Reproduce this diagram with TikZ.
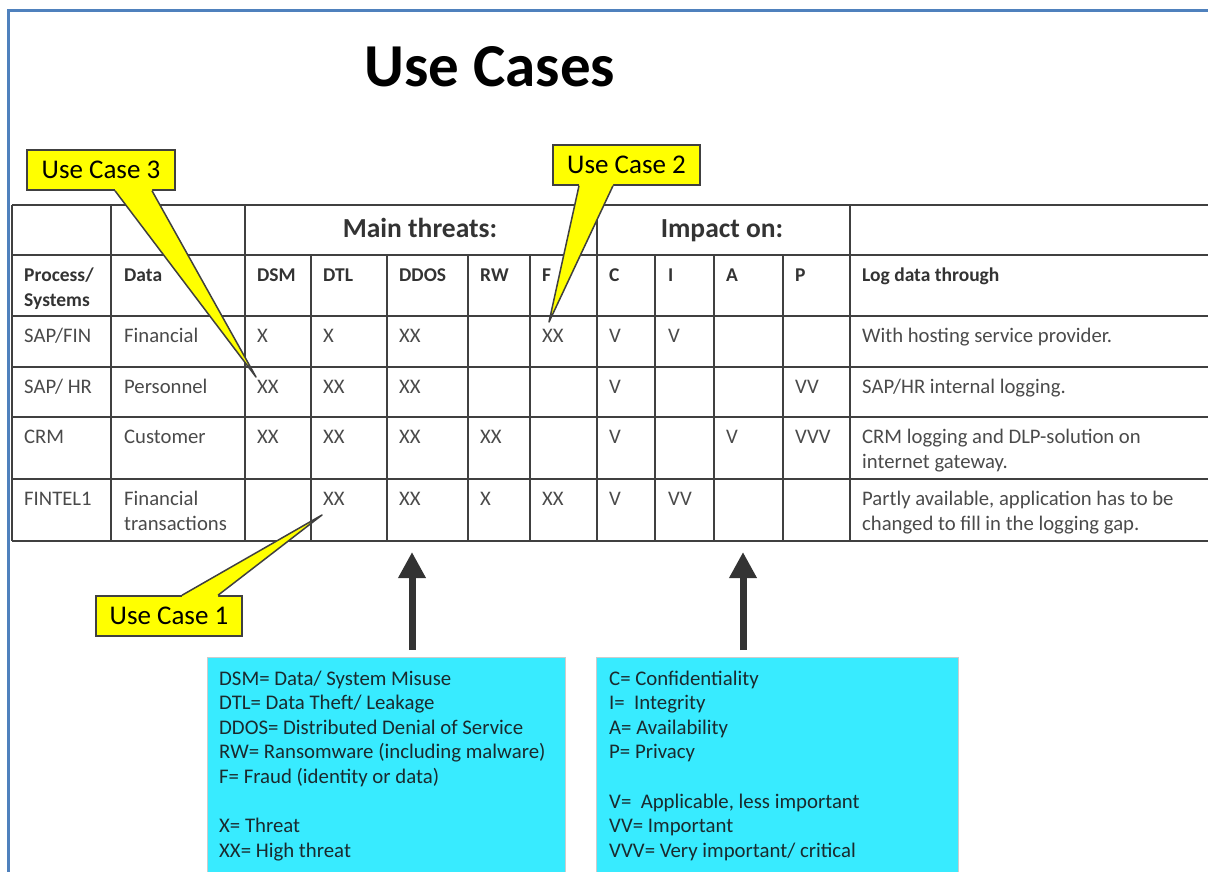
\documentclass[tikz,border=0pt]{standalone}
\usepackage{fontspec}
\setmainfont{Carlito}
\usetikzlibrary{arrows.meta,calc}

\definecolor{frameblue}{HTML}{4F81BD}
\definecolor{gridgray}{HTML}{404040}
\definecolor{txtgray}{HTML}{4A4A4A}
\definecolor{hdrgray}{HTML}{333333}
\definecolor{calloutyellow}{HTML}{FFFF00}
\definecolor{legendcyan}{HTML}{38EBFF}
\definecolor{legendtext}{HTML}{1A2A2E}
\definecolor{arrowgray}{HTML}{333333}

\newcommand\cellfont{\fontsize{20.7}{25}\selectfont\color{txtgray}}
\newcommand\headfont{\fontsize{19.5}{25}\selectfont\bfseries\color{hdrgray}}
% one table cell: name, x, row top, text
\newcommand\tcell[4]{\node[cell] (#1) at (#2,#3+8.5) {\strut #4};}
\newcommand\hcell[4]{\node[cell,font=\headfont] (#1) at (#2,#3+8.5) {\strut #4};}

\begin{document}
\begin{tikzpicture}[x=1pt,y=-1pt,
  frame/.style={draw=frameblue,line width=3pt},
  grid/.style={draw=gridgray,line width=1.8pt},
  cell/.style={anchor=north west,inner sep=0pt,align=left,font=\cellfont},
  group/.style={anchor=base,inner sep=0pt,font=\fontsize{27.5}{30}\selectfont\bfseries\color{hdrgray}},
  callout/.style={draw=gridgray,line width=1.5pt,fill=calloutyellow,minimum height=40pt,
    inner sep=0pt,font=\fontsize{27}{30}\selectfont},
  wedge/.style={draw=gridgray,line width=1.5pt,line join=round},
  legendbox/.style={fill=legendcyan,draw=gray!40,line width=0.8pt,anchor=north west,
    minimum height=240pt,inner sep=0pt},
  legendtext/.style={anchor=north west,inner sep=0pt,align=left,
    font=\fontsize{20.8}{24.6}\selectfont\color{legendtext}},
  bigarrow/.style={draw=arrowgray,line width=7pt,-{Triangle[width=26pt,length=26pt]}}
]
\useasboundingbox (0,0) rectangle (1208,872);
\clip (0,0) rectangle (1208,872);

% page frame
\draw[frame] (8,890) -- (8,11) -- (1220,11);

% title
\node[inner sep=0pt,anchor=base,font=\fontsize{61}{64}\selectfont\bfseries] (title) at (490,87) {Use Cases};

% ---------------- table grid ----------------
\foreach \y in {205,255,316,367,417,479,541}
  \draw[grid] (12,\y) -- (1220,\y);
\foreach \x in {12,111,245,597,850}
  \draw[grid] (\x,205) -- (\x,541);
\foreach \x in {311,387,468,530,655,714,783}
  \draw[grid] (\x,255) -- (\x,541);

% group headings
\node[group] (threats) at (420,237) {Main threats:};
\node[group] (impact) at (722,237) {Impact on:};

% column headings
\hcell{hproc}{24}{255}{Process/\\Systems}
\hcell{hdata}{124}{255}{Data}
\hcell{hdsm}{257}{255}{DSM}
\hcell{hdtl}{323}{255}{DTL}
\hcell{hddos}{399}{255}{DDOS}
\hcell{hrw}{480}{255}{RW}
\hcell{hf}{542}{255}{F}
\hcell{hc}{609}{255}{C}
\hcell{hi}{668}{255}{I}
\hcell{ha}{726}{255}{A}
\hcell{hp}{795}{255}{P}
\hcell{hlog}{862}{255}{Log data through}

% row 1
\tcell{aproc}{24}{316}{SAP/FIN}
\tcell{adata}{124}{316}{Financial}
\tcell{adsm}{257}{316}{X}
\tcell{adtl}{323}{316}{X}
\tcell{addos}{399}{316}{XX}
\tcell{af}{542}{316}{XX}
\tcell{ac}{609}{316}{V}
\tcell{ai}{668}{316}{V}
\tcell{alog}{862}{316}{With hosting service provider.}

% row 2
\tcell{bproc}{24}{367}{SAP/ HR}
\tcell{bdata}{124}{367}{Personnel}
\tcell{bdsm}{257}{367}{XX}
\tcell{bdtl}{323}{367}{XX}
\tcell{bddos}{399}{367}{XX}
\tcell{bc}{609}{367}{V}
\tcell{bp}{795}{367}{VV}
\tcell{blog}{862}{367}{SAP/HR internal logging.}

% row 3
\tcell{cproc}{24}{417}{CRM}
\tcell{cdata}{124}{417}{Customer}
\tcell{cdsm}{257}{417}{XX}
\tcell{cdtl}{323}{417}{XX}
\tcell{cddos}{399}{417}{XX}
\tcell{crw}{480}{417}{XX}
\tcell{cc}{609}{417}{V}
\tcell{ca}{726}{417}{V}
\tcell{cp}{795}{417}{VVV}
\tcell{clog}{862}{417}{CRM logging and DLP-solution on\\internet gateway.}

% row 4
\tcell{dproc}{24}{479}{FINTEL1}
\tcell{ddata}{124}{479}{Financial\\transactions}
\tcell{ddtl}{323}{479}{XX}
\tcell{dddos}{399}{479}{XX}
\tcell{drw}{480}{479}{X}
\tcell{df}{542}{479}{XX}
\tcell{dc}{609}{479}{V}
\tcell{di}{668}{479}{VV}
\tcell{dlog}{862}{479}{Partly available, application has to be\\changed to fill in the logging gap.}

% ---------------- callouts ----------------
\coordinate (tip3) at (256,377);
\coordinate (tip2) at (549,322);
\coordinate (tip1) at (322,515);

\node[callout,minimum width=148pt] (uc3) at (101,170) {Use Case 3};
\fill[calloutyellow] ([xshift=14pt,yshift=2pt]uc3.south) -- ([xshift=14pt]uc3.south) -- (tip3)
  -- ([xshift=51pt]uc3.south) -- ([xshift=51pt,yshift=2pt]uc3.south) -- cycle;
\draw[wedge] ([xshift=14pt]uc3.south) -- (tip3) -- ([xshift=51pt]uc3.south);

\node[callout,minimum width=147pt] (uc2) at (626.5,165) {Use Case 2};
\fill[calloutyellow] ([xshift=-47.5pt,yshift=2pt]uc2.south) -- ([xshift=-47.5pt]uc2.south) -- (tip2)
  -- ([xshift=-13.5pt]uc2.south) -- ([xshift=-13.5pt,yshift=2pt]uc2.south) -- cycle;
\draw[wedge] ([xshift=-47.5pt]uc2.south) -- (tip2) -- ([xshift=-13.5pt]uc2.south);

\node[callout,minimum width=146pt] (uc1) at (169,616) {Use Case 1};
\fill[calloutyellow] ([xshift=13pt,yshift=-2pt]uc1.north) -- ([xshift=13pt]uc1.north) -- (tip1)
  -- ([xshift=49pt]uc1.north) -- ([xshift=49pt,yshift=-2pt]uc1.north) -- cycle;
\draw[wedge] ([xshift=13pt]uc1.north) -- (tip1) -- ([xshift=49pt]uc1.north);

% ---------------- legends ----------------
\node[legendbox,minimum width=358pt] (legL) at (207,657) {};
\node[legendbox,minimum width=362pt] (legR) at (596,657) {};

\node[legendtext] (legLtxt) at (219,667.7) {\strut DSM= Data/ System Misuse\\
DTL= Data Theft/ Leakage\\
DDOS= Distributed Denial of Service\\
RW= Ransomware (including malware)\\
F= Fraud (identity or data)\\
\mbox{}\\
X= Threat\\
XX= High threat};

\node[legendtext] (legRtxt) at (609,667.7) {\strut C= Confidentiality\\
I=\ \ Integrity\\
A= Availability\\
P= Privacy\\
\mbox{}\\
V=\ \ Applicable, less important\\
VV= Important\\
VVV= Very important/ critical};

% arrows from the legends up to the table
\coordinate (arrL) at (412,552);
\coordinate (arrR) at (743,552);
\draw[bigarrow] ([yshift=7pt]legL.north -| arrL) -- (arrL);
\draw[bigarrow] ([yshift=7pt]legR.north -| arrR) -- (arrR);
\end{tikzpicture}
\end{document}
